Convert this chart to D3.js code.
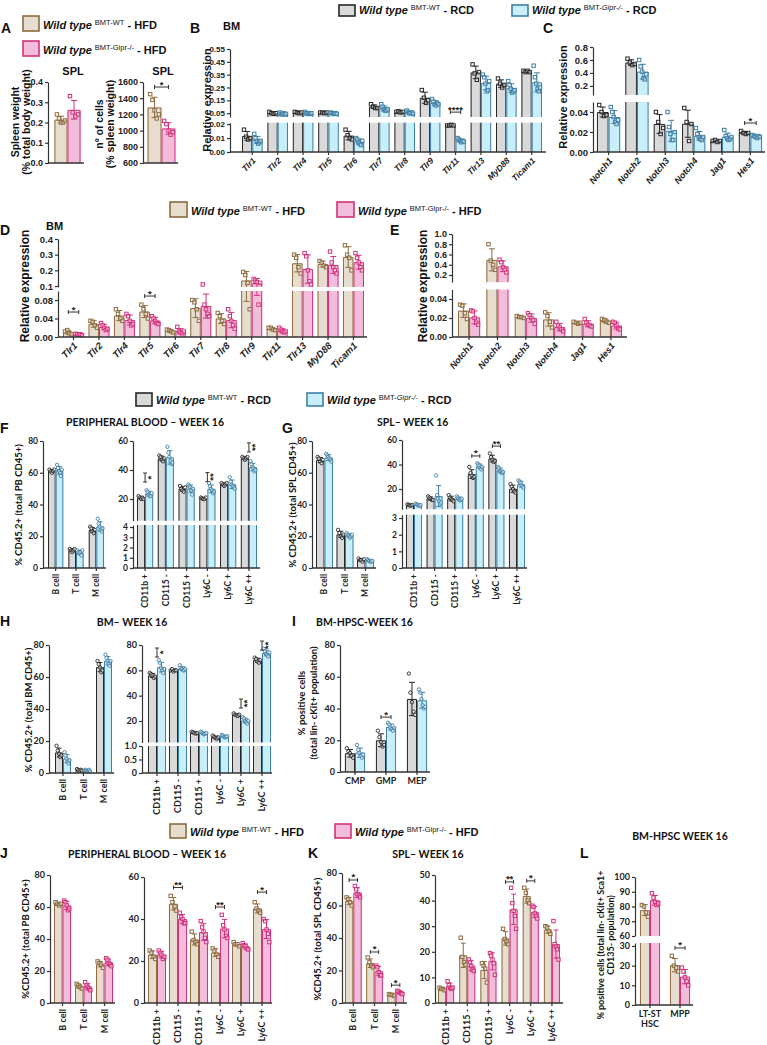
<!DOCTYPE html>
<html><head><meta charset="utf-8">
<script src="https://cdn.jsdelivr.net/npm/d3@7"></script>
<style>body{margin:0;background:#fff}svg{display:block}</style>
</head><body>
<svg id="c" width="767" height="1045"></svg>
<script>
// ================= DATA =================
const spleenCats = ["SPL"];
const tlrCats = ["Tlr1","Tlr2","Tlr4","Tlr5","Tlr6","Tlr7","Tlr8","Tlr9","Tlr11","Tlr13","MyD88","Ticam1"];
const notchCats = ["Notch1","Notch2","Notch3","Notch4","Jag1","Hes1"];
const lineageCats = ["B cell","T cell","M cell"];
const myeloidCats = ["CD11b +","CD115 -","CD115 +","Ly6C -","Ly6C +","Ly6C ++"];
const progCats = ["CMP","GMP","MEP"];
const hscCats = ["LT-ST HSC","MPP"];

// Panel A (HFD)
const A1_wt = [[0.24,0.22,0.20,0.20,0.21]];
const A1_ko = [[0.33,0.25,0.23,0.24]];
const A2_wt = [[1450,1380,1250,1150,1200]];
const A2_ko = [[1120,1080,1000,950,980]];

// Panel B (RCD, BM Tlr)
const B_wt = [[0.016,0.011,0.009,0.010],[0.06,0.05,0.045,0.05],[0.06,0.055,0.05,0.055],[0.055,0.055,0.05,0.055],
  [0.016,0.012,0.010,0.009],[0.12,0.10,0.09,0.09],[0.06,0.065,0.055,0.06],[0.23,0.17,0.13,0.15],
  [0.019,0.019,0.0195,0.019],[0.43,0.36,0.31,0.37],[0.32,0.28,0.25,0.27],[0.38,0.37,0.38,0.37]];
const B_ko = [[0.013,0.010,0.008,0.006,0.007,0.008],[0.055,0.045,0.04,0.05,0.04,0.045],[0.06,0.05,0.045,0.05,0.045,0.05],
  [0.055,0.05,0.05,0.045,0.05,0.045],[0.010,0.009,0.007,0.006,0.005,0.008],[0.12,0.10,0.08,0.07,0.07,0.08],
  [0.07,0.06,0.05,0.05,0.055,0.045],[0.16,0.14,0.12,0.11,0.13,0.12],[0.010,0.009,0.008,0.007,0.008,0.0075],
  [0.35,0.33,0.28,0.22,0.23,0.30],[0.30,0.27,0.24,0.21,0.22,0.23],[0.42,0.33,0.28,0.24,0.22,0.25]];

// Panel C (RCD, BM Notch)
const C_wt = [[0.047,0.04,0.036,0.037],[0.62,0.56,0.52,0.54],[0.04,0.03,0.018,0.024],[0.044,0.03,0.011,0.028],
  [0.011,0.012,0.010,0.011],[0.021,0.019,0.018,0.019]];
const C_ko = [[0.045,0.04,0.035,0.03,0.028,0.032],[0.6,0.5,0.42,0.32,0.3,0.38],[0.04,0.025,0.018,0.012,0.012,0.02],
  [0.024,0.018,0.015,0.013,0.012,0.015],[0.022,0.016,0.014,0.012,0.013,0.015],[0.017,0.016,0.015,0.014,0.016,0.015]];

// Panel D (HFD, BM Tlr)
const D_wt = [[0.012,0.015,0.008,0.006],[0.035,0.033,0.025,0.020],[0.06,0.05,0.04,0.035],[0.07,0.06,0.05,0.04],
  [0.016,0.015,0.012,0.010],[0.08,0.075,0.06,0.035],[0.052,0.045,0.035,0.028],[0.19,0.17,0.12,0.06],
  [0.02,0.02,0.016,0.015],[0.3,0.28,0.22,0.18],[0.26,0.25,0.23,0.22],[0.36,0.3,0.28,0.2]];
const D_ko = [[0.007,0.006,0.005,0.006,0.004],[0.030,0.025,0.020,0.015,0.018],[0.05,0.045,0.035,0.025,0.028],
  [0.045,0.04,0.035,0.03,0.028],[0.022,0.012,0.010,0.008,0.012],[0.11,0.07,0.06,0.05,0.045],
  [0.06,0.045,0.035,0.025,0.018],[0.145,0.135,0.125,0.07,0.12],[0.02,0.016,0.012,0.01,0.012],
  [0.31,0.29,0.2,0.13,0.11],[0.32,0.25,0.22,0.2,0.18],[0.31,0.28,0.25,0.22,0.2]];

// Panel E (HFD, BM Notch)
const E_wt = [[0.034,0.033,0.025,0.019],[0.8,0.48,0.4,0.3],[0.022,0.021,0.021,0.02],[0.026,0.022,0.016,0.01],
  [0.016,0.015,0.014,0.015],[0.019,0.018,0.016,0.015]];
const E_ko = [[0.028,0.027,0.02,0.015,0.013],[0.5,0.45,0.35,0.3,0.25],[0.025,0.023,0.02,0.018,0.014],
  [0.016,0.012,0.01,0.008,0.006],[0.019,0.015,0.013,0.012,0.011],[0.016,0.015,0.012,0.009,0.008]];

// Panel F (RCD, peripheral blood)
const F1_wt = [[62,61,60,61,62],[12,11,10,11,12],[26,25,23,22,24]];
const F1_ko = [[65,63,61,60,58,62],[11,10,9,10,8,11],[31,28,26,24,23,25]];
const F2_wt = [[22,21,20,21,20],[50,49,47,46,48],[29,27,26,25,28],[21,20.5,20,20,21],[31,30,29,30,31],[49,48,47,48,49]];
const F2_ko = [[26,25,23,22,22,24],[56,52,49,46,44,45],[30,29,28,26,23,27],[31,29,27,26,24,25],[35,32,30,29,28,27],[46,44,42,41,39,40]];

// Panel G (RCD, spleen)
const G1_wt = [[70,69,67,66,68],[24,22,20,19,21],[6,5,5,4,5.5]];
const G1_ko = [[72,71,70,69,68,67],[22,21,20,19,20,21],[5.5,5,4.5,4,4,4.5]];
const G2_wt = [[7.5,7,6.5,6.5,7],[14,13,12,11,11],[15,13,12,11,10],[38,33,31,29,30],[49,46,44,42,43],[24,22,20,18,17]];
const G2_ko = [[8,7.5,7,6.5,6.5,7],[31,15,12,10,8,9],[14,13,12,11,11,12],[41,40,39,37,36,38],[38,37,35,34,33,34],[27,26,25,23,22,21]];

// Panel H (RCD, bone marrow)
const H1_wt = [[17,14,12,10,11],[2.5,2,1.5,2,1.5],[70,68,66,63,64]];
const H1_ko = [[13,11,9,7,6,8],[2,1.5,1,1.5,2,1],[74,72,70,68,67,70]];
const H2_wt = [[58,57,56,54,55],[60,61,59,60,60],[11.5,11,10.5,10,10.5],[8.5,7.5,6.5,6,7],[26,25,24.5,24,25],[70,69,67,66,68]];
const H2_ko = [[68,66,62,60,58,61],[64,62,61,60,60,61],[11.5,11,10,9.5,10,10.5],[9,8.5,7.5,7,7.5,8],[23,22,20,19,18,20],[77,75,73,72,71,74]];

// Panel I (RCD, BM-HPSC)
const I_wt = [[15,13,12,10,9],[26,22,19,16,17],[62,50,44,38,36]];
const I_ko = [[17,14,12,10,9,11],[31,30,28,27,26,28],[52,50,46,42,40,41]];

// Panel J (HFD, peripheral blood)
const J1_wt = [[63,62,61,62],[12,11,10,9],[26,25,24,22]];
const J1_ko = [[64,63,61,58,59],[13,11,10,9,8],[28,27,25,24,23]];
const J2_wt = [[25,24,22,21],[51,48,46,44],[34,30,29,28],[26,25,23,22],[29,28,28,27],[48,45,44,43]];
const J2_ko = [[25,24,23,21,22],[43,41,40,38,38],[39,36,34,31,29],[42,37,35,32,31],[28.5,27.5,27,26,25.5],[40,39,35,33,29]];

// Panel K (HFD, spleen)
const K1_wt = [[65,64,62,60],[28,25,23,22],[5.5,5,5,4.5]];
const K1_ko = [[72,70,67,66,65],[23,22,19,17,17],[7.5,7,6.5,6,5.5]];
const K2_wt = [[6,5.5,5.5,5],[25.5,18,16,15],[15.5,14.5,13.5,8],[29,25,24,23],[45,43,40,39],[30,29.5,28,27]];
const K2_ko = [[8.5,7,6,5.5,6],[17,16,14.5,13,12.5],[19.5,18.5,17,15.5,11],[45,39,36,34,29],[38,37.5,35,34,33],[32,23,22,21,17]];

// Panel L (HFD, BM-HPSC)
const L_wt = [[81,80,76,73],[25,20,19,17]];
const L_ko = [[89,86,83,81,82],[19,17,14,12,10]];

// tick values
const ticksA1 = [0,0.1,0.2,0.3,0.4];
const ticksA2 = [600,800,1000,1200,1400,1600];
const ticksBlo = [0,0.01,0.02], ticksBhi = [0.05,0.15,0.25,0.35,0.45,0.55];
const ticksClo = [0,0.02,0.04], ticksChi = [0.2,0.4,0.6,0.8];
const ticksDlo = [0,0.04,0.08], ticksDhi = [0.1,0.2,0.3,0.4];
const ticksElo = [0,0.02,0.04], ticksEhi = [0.2,0.4,0.6,0.8,1.0];
const ticks80 = [0,20,40,60,80];
const ticksFlo = [0,1,2,3,4], ticksHi60 = [20,40,60];
const ticksGlo = [0,1,2,3];
const ticksHlo = [0,0.5,1.0], ticksHhi = [20,40,60,80];
const ticks60 = [0,20,40,60];
const ticks50 = [0,10,20,30,40,50];
const ticksLlo = [0,10,20,30], ticksLhi = [60,70,80,90,100];

// ================= DRAWING =================
const svg = d3.select("#c");
const FA = "'Liberation Sans', Arial, sans-serif";
const FL = "Lato, 'Liberation Sans', sans-serif";
const TH = {
  rcd: {wt:{fill:"#d9d9d9", stroke:"#262626"}, ko:{fill:"#c8eff9", stroke:"#3e7fa6"}},
  hfd: {wt:{fill:"#e6ddcf", stroke:"#8d6b3e"}, ko:{fill:"#f1bddb", stroke:"#d3317c"}}
};
const f2 = d3.format(".2f"), f1 = d3.format(".1f"), fd = d3.format("d");

function panel(cfg) {
  const g = svg.append("g");
  const th = TH[cfg.theme];
  const x = d3.scaleBand().domain(cfg.cats).range(cfg.xr).paddingInner(cfg.pad).paddingOuter(cfg.pad/2);
  const bw = x.bandwidth()/2;
  const segs = cfg.segs.map(s => Object.assign({}, s, {sc: d3.scaleLinear().domain(s.dom).range(s.rng)}));
  const bottom = segs[0].rng[0];
  const yv = v => {
    for (const s of segs) if (v >= s.dom[0] && v <= s.dom[1]) return s.sc(v);
    if (v < segs[0].dom[0]) return segs[0].rng[0];
    for (let i = 0; i < segs.length-1; i++) if (v > segs[i].dom[1] && v < segs[i+1].dom[0]) return segs[i].rng[1];
    return segs[segs.length-1].rng[1];
  };
  const inSeg = v => segs.some(s => v >= s.dom[0] && v <= s.dom[1]);
  cfg.cats.forEach((c, i) => {
    [["wt", cfg.wt[i]], ["ko", cfg.ko[i]]].forEach(([k, pts], j) => {
      const col = th[k];
      const m = d3.mean(pts), sd = d3.deviation(pts) || 0;
      const x0 = x(c) + j*bw, xc = x0 + bw/2;
      segs.forEach(s => {
        if (m <= s.dom[0]) return;
        const real = m <= s.dom[1];
        const yt = s.sc(Math.min(m, s.dom[1])), yb = s.rng[0];
        g.append("rect").attr("x", x0).attr("y", yt).attr("width", bw).attr("height", yb - yt).attr("fill", col.fill);
        const p = real ? `M${x0+0.5},${yb}V${yt+0.5}H${x0+bw-0.5}V${yb}`
                       : `M${x0+0.5},${yb}V${yt}M${x0+bw-0.5},${yb}V${yt}`;
        g.append("path").attr("d", p).attr("fill", "none").attr("stroke", col.stroke).attr("stroke-width", 1);
      });
      const lo = m - sd, hi = m + sd, cw = Math.min(3, bw*0.3);
      segs.forEach(s => {
        const a = Math.max(lo, s.dom[0]), b = Math.min(hi, s.dom[1]);
        if (a >= b) return;
        g.append("line").attr("x1", xc).attr("x2", xc).attr("y1", s.sc(a)).attr("y2", s.sc(b))
          .attr("stroke", col.stroke).attr("stroke-width", 1);
        [lo, hi].forEach(v => {
          if (v >= s.dom[0] && v <= s.dom[1])
            g.append("line").attr("x1", xc-cw).attr("x2", xc+cw).attr("y1", s.sc(v)).attr("y2", s.sc(v))
              .attr("stroke", col.stroke).attr("stroke-width", 1);
        });
      });
      const n = pts.length;
      pts.forEach((p, pi) => {
        if (!inSeg(p)) return;
        const off = n > 1 ? (pi/(n-1) - 0.5) * bw * 0.62 : 0;
        const px = xc + off, py = yv(p);
        if (cfg.marker === "circle")
          g.append("circle").attr("cx", px).attr("cy", py).attr("r", 1.7).attr("fill", "#fff").attr("fill-opacity", 0.5)
            .attr("stroke", col.stroke).attr("stroke-width", 0.9);
        else
          g.append("rect").attr("x", px-1.7).attr("y", py-1.7).attr("width", 3.4).attr("height", 3.4)
            .attr("fill", "#fff").attr("fill-opacity", 0.4).attr("stroke", col.stroke).attr("stroke-width", 1);
      });
    });
  });
  segs.forEach(s => {
    const ax = g.append("g").attr("transform", `translate(${cfg.ax[0]},0)`)
      .call(d3.axisLeft(s.sc).tickValues(s.ticks).tickFormat(s.fmt || fd).tickSize(3).tickSizeOuter(0));
    ax.selectAll("path,line").attr("stroke", "#333").attr("stroke-width", 1.2);
    ax.selectAll("text").attr("font-family", cfg.font).attr("font-weight", "bold")
      .attr("font-size", cfg.tick).attr("fill", "#222").attr("x", -5);
  });
  const xa = g.append("g").attr("transform", `translate(0,${bottom})`)
    .call(d3.axisBottom(x).tickSize(3).tickSizeOuter(0));
  xa.select(".domain").remove();
  xa.selectAll("line").attr("stroke", "#333").attr("stroke-width", 1.2);
  g.append("line").attr("x1", cfg.ax[0]).attr("x2", cfg.ax[1]).attr("y1", bottom).attr("y2", bottom)
    .attr("stroke", "#333").attr("stroke-width", 1.3);
  const tx = xa.selectAll("text").attr("font-family", cfg.font).attr("font-weight", "bold")
    .attr("font-size", cfg.xl.size || 9).attr("fill", "#222")
    .attr("font-style", cfg.xl.italic ? "italic" : "normal");
  if (cfg.xl.mode === "none") { xa.selectAll("text").remove(); xa.selectAll("line").remove(); }
  else if (cfg.xl.mode === "rot") {
    tx.attr("x", 0).attr("y", 0).attr("dy", "0.35em").style("text-anchor", "end")
      .attr("transform", `translate(${cfg.xl.dx || 2},${cfg.xl.dy || 7}) rotate(${cfg.xl.ang})`);
  } else if (cfg.xl.mode === "r90") {
    tx.attr("x", -6).attr("y", 0).attr("dy", "0.35em").style("text-anchor", "end").attr("transform", "rotate(-90)");
  } else if (cfg.xl.mode === "h") {
    tx.attr("y", 5).attr("dy", "0.75em");
    if (cfg.xl.wrap) tx.each(function(d) {
      const parts = d.split(" ");
      if (parts.length < 2) return;
      const t = d3.select(this).text(null);
      parts.forEach((p, k) => t.append("tspan").attr("x", 0).attr("dy", k === 0 ? "0.75em" : "1.1em").text(p));
    });
  }
  (cfg.sig || []).forEach(sg => {
    const c1 = x(sg.cat) + bw/2, c2 = x(sg.cat) + 1.5*bw, cm = x(sg.cat) + bw;
    const y = yv(sg.at);
    const st = "#333";
    if (!sg.vert) {
      g.append("path").attr("d", `M${c1},${y-2}V${y+2}M${c1},${y}H${c2}M${c2},${y-2}V${y+2}`)
        .attr("stroke", st).attr("fill", "none").attr("stroke-width", 1);
      g.append("text").attr("x", cm).attr("y", y + 0.5).attr("text-anchor", "middle")
        .attr("font-family", FA).attr("font-weight", "bold").attr("font-size", 9.5).attr("fill", "#222").text(sg.t);
    } else {
      const len = 9;
      g.append("path").attr("d", `M${cm-2},${y}H${cm+2}M${cm},${y}V${y-len}M${cm-2},${y-len}H${cm+2}`)
        .attr("stroke", st).attr("fill", "none").attr("stroke-width", 1);
      g.append("text").attr("transform", `translate(${cm+9},${y-len/2}) rotate(-90)`).attr("text-anchor", "middle")
        .attr("font-family", FA).attr("font-weight", "bold").attr("font-size", 9.5).attr("fill", "#222").text(sg.t);
    }
  });
  return g;
}

function txt(x, y, s, o = {}) {
  const t = svg.append("text").attr("x", x).attr("y", y).text(s)
    .attr("font-family", o.font || FA).attr("font-weight", o.weight || "bold").attr("font-size", o.size || 11)
    .attr("fill", o.fill || "#111").attr("text-anchor", o.anchor || "start");
  if (o.italic) t.attr("font-style", "italic");
  return t;
}
function vtxt(x, y, s, o = {}) {
  return svg.append("text").attr("transform", `translate(${x},${y}) rotate(-90)`).text(s)
    .attr("font-family", o.font || FA).attr("font-weight", "bold").attr("font-size", o.size || 11)
    .attr("fill", "#111").attr("text-anchor", "middle");
}
function legend(x, y, w, h, col, parts) {
  svg.append("rect").attr("x", x).attr("y", y).attr("width", w).attr("height", h)
    .attr("fill", col.fill).attr("stroke", col.stroke).attr("stroke-width", 1.6);
  const t = svg.append("text").attr("x", x + w + 4).attr("y", y + h - 2.5)
    .attr("font-family", FA).attr("font-size", 11).attr("fill", "#111");
  let sup = false;
  parts.forEach(p => {
    const s = t.append("tspan").text(p.t);
    if (p.sup) { s.attr("font-size", 7.5).attr("font-weight", "normal"); if (!sup) s.attr("dy", -4); sup = true; }
    else { s.attr("font-weight", "bold"); if (sup) s.attr("dy", 4); sup = false; }
    if (p.it) s.attr("font-style", "italic");
  });
}
const wtParts = tail => [{t:"Wild type ", it:true}, {t:"BMT-WT", sup:true}, {t:tail}];
const koPartsH = [{t:"Wild type ", it:true}, {t:"BMT-Gipr-/-", sup:true}, {t:" - HFD"}];
const koPartsR = [{t:"Wild type ", it:true}, {t:"BMT-", sup:true}, {t:"Gipr-/-", sup:true, it:true}, {t:" - RCD"}];

legend(23, 16, 16, 15, TH.hfd.wt, wtParts(" - HFD"));
legend(23, 41, 16, 15, TH.hfd.ko, koPartsH);
legend(339, 5, 16, 11, TH.rcd.wt, wtParts(" - RCD"));
legend(512, 5, 16, 11, TH.rcd.ko, koPartsR);
legend(170, 202, 17, 15, TH.hfd.wt, wtParts(" - HFD"));
legend(337, 202, 17, 15, TH.hfd.ko, koPartsH);
legend(136, 393, 16, 13, TH.rcd.wt, wtParts(" - RCD"));
legend(307, 393, 16, 13, TH.rcd.ko, koPartsR);
legend(170, 824, 16, 14, TH.hfd.wt, wtParts(" - HFD"));
legend(335, 824, 16, 14, TH.hfd.ko, koPartsH);

[["A",1,33],["B",190,33],["C",543,33],["D",0,235],["E",390,235],["F",0,433],["G",282,433],
 ["H",0,626],["I",292,626],["J",0,858],["K",308,858],["L",580,858]]
  .forEach(([l,x,y]) => txt(x, y, l, {size: 14}));

txt(73, 75, "SPL", {size: 11, anchor: "middle"});
txt(163, 75, "SPL", {size: 11, anchor: "middle"});
txt(223, 30, "BM", {size: 11});
txt(46, 230, "BM", {size: 11});
txt(145, 426, "PERIPHERAL BLOOD – WEEK 16", {font: FL, size: 10.5, anchor: "middle"});
txt(377, 426, "SPL– WEEK 16", {font: FL, size: 10.5});
txt(132, 626, "BM– WEEK 16", {font: FL, size: 10.5, anchor: "middle"});
txt(316, 626, "BM-HPSC-WEEK 16", {font: FL, size: 10.5});
txt(147, 858, "PERIPHERAL BLOOD – WEEK 16", {font: FL, size: 10.5, anchor: "middle"});
txt(428, 858, "SPL– WEEK 16", {font: FL, size: 10.5, anchor: "middle"});
txt(680, 840, "BM-HPSC WEEK 16", {font: FL, size: 10.5, anchor: "middle"});

vtxt(19, 122, "Spleen weight", {size: 10.5});
vtxt(30, 122, "(% total body weight)", {size: 10.5});
vtxt(103, 124, "nº of cells", {size: 10.5});
vtxt(114, 124, "(% spleen weight)", {size: 10.5});
vtxt(211, 100, "Relative expression", {size: 11});
vtxt(567, 97, "Relative expression", {size: 11});
vtxt(29, 286, "Relative expression", {size: 12});
vtxt(427, 286, "Relative expression", {size: 12});
vtxt(22, 505, "% CD45.2+ (total PB CD45+)", {font: FL, size: 9.5});
vtxt(296, 505, "% CD45.2+ (total SPL CD45+)", {font: FL, size: 9.5});
vtxt(32, 710, "% CD45.2+ (total BM CD45+)", {font: FL, size: 9.5});
vtxt(305, 703, "% positive cells", {font: FL, size: 9.5});
vtxt(317, 703, "(total lin- cKit+ population)", {font: FL, size: 9.5});
vtxt(29, 939, "%CD45.2+ (total PB CD45+)", {font: FL, size: 9.5});
vtxt(321, 939, "%CD45.2+ (total SPL CD45+)", {font: FL, size: 9.5});
vtxt(604, 945, "% positive cells (total lin- cKit+ Sca1+", {font: FL, size: 9});
vtxt(614, 935, "CD135- population)", {font: FL, size: 9});

panel({cats: spleenCats, wt: A1_wt, ko: A1_ko, theme: "hfd", xr: [53, 82], pad: 0.1, ax: [48, 84], font: FA, tick: 9,
  segs: [{dom: [0, 0.4], rng: [163, 82], ticks: ticksA1, fmt: f1}], xl: {mode: "none"}});
panel({cats: spleenCats, wt: A2_wt, ko: A2_ko, theme: "hfd", xr: [146, 177], pad: 0.1, ax: [143, 178], font: FA, tick: 9,
  segs: [{dom: [600, 1600], rng: [163, 82], ticks: ticksA2, fmt: fd}], xl: {mode: "none"},
  sig: [{cat: "SPL", t: "*", at: 1538}]});

panel({cats: tlrCats, wt: B_wt, ko: B_ko, theme: "rcd", xr: [239.6, 544.4], pad: 0.19, ax: [230, 546], font: FA, tick: 8,
  segs: [{dom: [0, 0.021], rng: [152, 122.7], ticks: ticksBlo, fmt: f2}, {dom: [0.02, 0.55], rng: [117, 49], ticks: ticksBhi, fmt: f2}],
  xl: {mode: "rot", ang: -45, italic: true, size: 8.5}, sig: [{cat: "Tlr11", t: "****", at: 0.058}]});

panel({cats: notchCats, wt: C_wt, ko: C_ko, theme: "rcd", xr: [594.4, 764.6], pad: 0.18, ax: [593, 765], font: FA, tick: 9.5,
  segs: [{dom: [0, 0.05], rng: [152, 102], ticks: ticksClo, fmt: f2}, {dom: [0.06, 0.8], rng: [95, 47], ticks: ticksChi, fmt: f1}],
  xl: {mode: "rot", ang: -50, italic: true, size: 9}, sig: [{cat: "Hes1", t: "*", at: 0.029}]});

panel({cats: tlrCats, wt: D_wt, ko: D_ko, theme: "hfd", xr: [60.8, 366.2], pad: 0.175, ax: [58, 367], font: FA, tick: 9.5,
  segs: [{dom: [0, 0.0995], rng: [337, 291], ticks: ticksDlo, fmt: f2}, {dom: [0.0936, 0.4], rng: [287, 239], ticks: ticksDhi, fmt: f1}],
  xl: {mode: "rot", ang: -45, italic: true, size: 9.5},
  sig: [{cat: "Tlr1", t: "*", at: 0.054}, {cat: "Tlr5", t: "*", at: 0.0886}]});

panel({cats: notchCats, wt: E_wt, ko: E_ko, theme: "hfd", xr: [454.9, 625.1], pad: 0.22, ax: [452, 627], font: FA, tick: 9,
  segs: [{dom: [0, 0.05], rng: [337, 289.5], ticks: ticksElo, fmt: f2}, {dom: [0.06, 1.0], rng: [282.2, 234], ticks: ticksEhi, fmt: f1}],
  xl: {mode: "rot", ang: -50, italic: true, size: 9}});

panel({cats: lineageCats, wt: F1_wt, ko: F1_ko, theme: "rcd", xr: [45.5, 106.5], pad: 0.25, ax: [43, 106], font: FL, tick: 8.5,
  marker: "circle", segs: [{dom: [0, 80], rng: [568, 441], ticks: ticks80}], xl: {mode: "r90", size: 8.5}});
panel({cats: myeloidCats, wt: F2_wt, ko: F2_ko, theme: "rcd", xr: [134.7, 259.3], pad: 0.22, ax: [133, 260], font: FL, tick: 8.5,
  marker: "circle", segs: [{dom: [0, 4.2], rng: [568, 525], ticks: ticksFlo}, {dom: [5, 60], rng: [520.75, 441], ticks: ticksHi60}],
  xl: {mode: "r90", size: 8.5},
  sig: [{cat: "CD11b +", t: "*", at: 31.7, vert: true}, {cat: "Ly6C -", t: "**", at: 32, vert: true}, {cat: "Ly6C ++", t: "**", at: 52.5, vert: true}]});

panel({cats: lineageCats, wt: G1_wt, ko: G1_ko, theme: "rcd", xr: [314.25, 375.75], pad: 0.17, ax: [312, 376], font: FL, tick: 8.5,
  marker: "circle", segs: [{dom: [0, 80], rng: [568, 441], ticks: ticks80}], xl: {mode: "r90", size: 8.5}});
panel({cats: myeloidCats, wt: G2_wt, ko: G2_ko, theme: "rcd", xr: [403.7, 527.3], pad: 0.22, ax: [402, 527], font: FL, tick: 8.5,
  marker: "circle", segs: [{dom: [0, 3.2], rng: [568, 514.7], ticks: ticksGlo}, {dom: [3.5, 60], rng: [509.2, 440], ticks: ticksHi60}],
  xl: {mode: "r90", size: 8.5},
  sig: [{cat: "Ly6C -", t: "*", at: 47}, {cat: "Ly6C +", t: "**", at: 55}]});

panel({cats: lineageCats, wt: H1_wt, ko: H1_ko, theme: "rcd", xr: [52.75, 114.25], pad: 0.22, ax: [49, 114], font: FL, tick: 9,
  marker: "circle", segs: [{dom: [0, 80], rng: [773, 645], ticks: ticks80}], xl: {mode: "r90", size: 9}});
panel({cats: myeloidCats, wt: H2_wt, ko: H2_ko, theme: "rcd", xr: [146.5, 272.5], pad: 0.14, ax: [142, 272], font: FL, tick: 9,
  marker: "circle",
  segs: [{dom: [0, 1.0], rng: [773, 746], ticks: ticksHlo, fmt: v => v === 0 ? "0" : f1(v)}, {dom: [3, 80], rng: [742.5, 645], ticks: ticksHhi}],
  xl: {mode: "r90", size: 9},
  sig: [{cat: "CD11b +", t: "*", at: 70.5, vert: true}, {cat: "Ly6C +", t: "**", at: 30.2, vert: true}, {cat: "Ly6C ++", t: "**", at: 76, vert: true}]});

panel({cats: progCats, wt: I_wt, ko: I_ko, theme: "rcd", xr: [339.5, 432.5], pad: 0.35, ax: [340, 430], font: FL, tick: 9,
  marker: "circle", segs: [{dom: [0, 80], rng: [772, 645], ticks: ticks80}], xl: {mode: "h", size: 9},
  sig: [{cat: "GMP", t: "*", at: 34.6}]});

panel({cats: lineageCats, wt: J1_wt, ko: J1_ko, theme: "hfd", xr: [52, 115], pad: 0.19, ax: [50, 115], font: FL, tick: 9,
  segs: [{dom: [0, 80], rng: [1003, 875], ticks: ticks80}], xl: {mode: "r90", size: 9}});
panel({cats: myeloidCats, wt: J2_wt, ko: J2_ko, theme: "hfd", xr: [146.5, 272.5], pad: 0.14, ax: [144, 272], font: FL, tick: 9,
  segs: [{dom: [0, 60], rng: [1003, 877], ticks: ticks60}], xl: {mode: "r90", size: 9},
  sig: [{cat: "CD115 -", t: "**", at: 55}, {cat: "Ly6C -", t: "**", at: 45.7}, {cat: "Ly6C ++", t: "*", at: 52.8}]});

panel({cats: lineageCats, wt: K1_wt, ko: K1_ko, theme: "hfd", xr: [342.75, 406.25], pad: 0.21, ax: [342, 407], font: FL, tick: 9,
  segs: [{dom: [0, 80], rng: [1003, 873], ticks: ticks80}], xl: {mode: "r90", size: 9},
  sig: [{cat: "B cell", t: "*", at: 75.7}, {cat: "T cell", t: "*", at: 31.4}, {cat: "M cell", t: "*", at: 11}]});
panel({cats: myeloidCats, wt: K2_wt, ko: K2_ko, theme: "hfd", xr: [435.5, 562.5], pad: 0.24, ax: [435, 563], font: FL, tick: 9,
  segs: [{dom: [0, 50], rng: [1003, 875], ticks: ticks50}], xl: {mode: "r90", size: 9},
  sig: [{cat: "Ly6C -", t: "**", at: 47.3}, {cat: "Ly6C +", t: "*", at: 47.7}]});

panel({cats: hscCats, wt: L_wt, ko: L_ko, theme: "hfd", xr: [635, 695], pad: 0.33, ax: [635, 693], font: FL, tick: 9,
  segs: [{dom: [0, 31.5], rng: [1005, 943], ticks: ticksLlo}, {dom: [60, 100], rng: [936, 877], ticks: ticksLhi}],
  xl: {mode: "h", size: 9, wrap: true}, sig: [{cat: "MPP", t: "*", at: 29}]});
</script>
</body></html>
